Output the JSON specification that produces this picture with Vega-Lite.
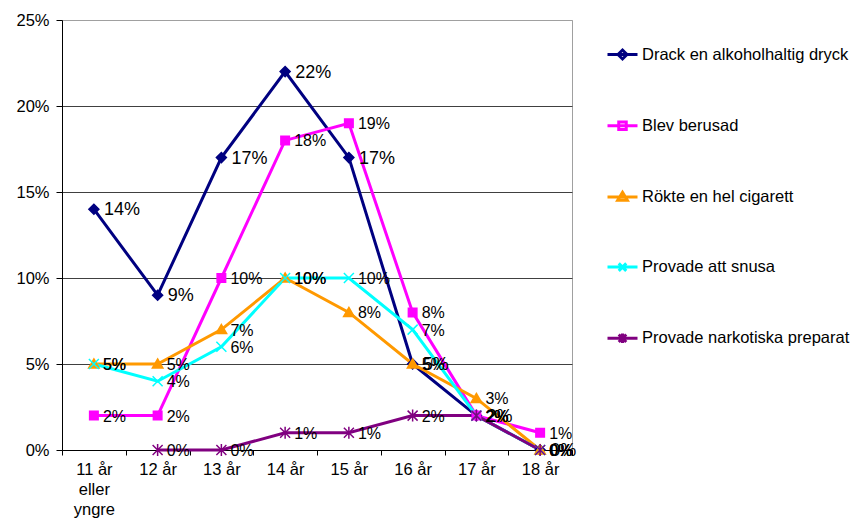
{
  "$schema": "https://vega.github.io/schema/vega-lite/v6.json",
  "width": 510,
  "height": 430,
  "autosize": "none",
  "padding": {"left": 62, "top": 20, "right": 284, "bottom": 76},
  "config": {
    "font": "Liberation Sans",
    "view": {"stroke": "#a0a0a0", "strokeWidth": 1},
    "background": "white"
  },
  "data": {
    "values": [
      {"age": "11 år eller yngre", "series": "Drack en alkoholhaltig dryck", "v": 0.14},
      {"age": "12 år", "series": "Drack en alkoholhaltig dryck", "v": 0.09},
      {"age": "13 år", "series": "Drack en alkoholhaltig dryck", "v": 0.17},
      {"age": "14 år", "series": "Drack en alkoholhaltig dryck", "v": 0.22},
      {"age": "15 år", "series": "Drack en alkoholhaltig dryck", "v": 0.17},
      {"age": "16 år", "series": "Drack en alkoholhaltig dryck", "v": 0.05},
      {"age": "17 år", "series": "Drack en alkoholhaltig dryck", "v": 0.02},
      {"age": "18 år", "series": "Drack en alkoholhaltig dryck", "v": 0.0},
      {"age": "11 år eller yngre", "series": "Blev berusad", "v": 0.02},
      {"age": "12 år", "series": "Blev berusad", "v": 0.02},
      {"age": "13 år", "series": "Blev berusad", "v": 0.10},
      {"age": "14 år", "series": "Blev berusad", "v": 0.18},
      {"age": "15 år", "series": "Blev berusad", "v": 0.19},
      {"age": "16 år", "series": "Blev berusad", "v": 0.08},
      {"age": "17 år", "series": "Blev berusad", "v": 0.02},
      {"age": "18 år", "series": "Blev berusad", "v": 0.01},
      {"age": "11 år eller yngre", "series": "Rökte en hel cigarett", "v": 0.05},
      {"age": "12 år", "series": "Rökte en hel cigarett", "v": 0.05},
      {"age": "13 år", "series": "Rökte en hel cigarett", "v": 0.07},
      {"age": "14 år", "series": "Rökte en hel cigarett", "v": 0.10},
      {"age": "15 år", "series": "Rökte en hel cigarett", "v": 0.08},
      {"age": "16 år", "series": "Rökte en hel cigarett", "v": 0.05},
      {"age": "17 år", "series": "Rökte en hel cigarett", "v": 0.03},
      {"age": "18 år", "series": "Rökte en hel cigarett", "v": 0.0},
      {"age": "11 år eller yngre", "series": "Provade att snusa", "v": 0.05},
      {"age": "12 år", "series": "Provade att snusa", "v": 0.04},
      {"age": "13 år", "series": "Provade att snusa", "v": 0.06},
      {"age": "14 år", "series": "Provade att snusa", "v": 0.10},
      {"age": "15 år", "series": "Provade att snusa", "v": 0.10},
      {"age": "16 år", "series": "Provade att snusa", "v": 0.07},
      {"age": "17 år", "series": "Provade att snusa", "v": 0.02},
      {"age": "18 år", "series": "Provade att snusa", "v": 0.0},
      {"age": "12 år", "series": "Provade narkotiska preparat", "v": 0.0},
      {"age": "13 år", "series": "Provade narkotiska preparat", "v": 0.0},
      {"age": "14 år", "series": "Provade narkotiska preparat", "v": 0.01},
      {"age": "15 år", "series": "Provade narkotiska preparat", "v": 0.01},
      {"age": "16 år", "series": "Provade narkotiska preparat", "v": 0.02},
      {"age": "17 år", "series": "Provade narkotiska preparat", "v": 0.02},
      {"age": "18 år", "series": "Provade narkotiska preparat", "v": 0.0}
    ]
  },
  "encoding": {
    "x": {
      "field": "age", "type": "nominal", "sort": null,
      "scale": {"type": "band", "paddingInner": 0, "paddingOuter": 0,
        "domain": ["11 år eller yngre","12 år","13 år","14 år","15 år","16 år","17 år","18 år"]},
      "axis": {
        "title": null, "labelAngle": 0, "tickBand": "extent",
        "labelFontSize": 16.5, "labelColor": "#000", "labelPadding": 6,
        "labelLineHeight": 20, "labelBaseline": "top",
        "labelExpr": "datum.value == '11 år eller yngre' ? ['11 år','eller','yngre'] : datum.value",
        "domainColor": "#000", "tickColor": "#000", "tickSize": 5, "grid": false,
        "labelFont": "Liberation Sans"
      }
    },
    "y": {
      "field": "v", "type": "quantitative",
      "scale": {"domain": [0, 0.25], "nice": false},
      "axis": {
        "title": null, "values": [0, 0.05, 0.1, 0.15, 0.2, 0.25], "format": ".0%",
        "labelFontSize": 16.5, "labelColor": "#000", "labelPadding": 7,
        "domainColor": "#000", "tickColor": "#000", "tickSize": 6,
        "grid": true,
        "gridColor": {"condition": {"test": "datum.value >= 0.25", "value": "#a0a0a0"}, "value": "#404040"},
        "gridWidth": 1, "gridOpacity": 1,
        "labelFont": "Liberation Sans"
      }
    }
  },
  "layer": [
    {
      "mark": {"type": "line", "strokeWidth": 3},
      "encoding": {
        "color": {
          "field": "series", "type": "nominal",
          "scale": {"domain": ["Drack en alkoholhaltig dryck","Blev berusad","Rökte en hel cigarett","Provade att snusa","Provade narkotiska preparat"],
            "range": ["#000080","#FF00FF","#FF9900","#00FFFF","#800080"]},
          "legend": null
        }
      }
    },
    {
      "mark": {"type": "point", "filled": true, "size": 100, "strokeWidth": 1.5, "opacity": 1},
      "encoding": {
        "fill": {
          "field": "series", "type": "nominal",
          "scale": {"domain": ["Drack en alkoholhaltig dryck","Blev berusad","Rökte en hel cigarett","Provade att snusa","Provade narkotiska preparat"],
            "range": ["#000080","#FF00FF","#FF9900","#00FFFF","#800080"]},
          "legend": null
        },
        "stroke": {
          "field": "series", "type": "nominal",
          "scale": {"domain": ["Drack en alkoholhaltig dryck","Blev berusad","Rökte en hel cigarett","Provade att snusa","Provade narkotiska preparat"],
            "range": ["#000080","#FF00FF","#FF9900","#00FFFF","#800080"]},
          "legend": null
        },
        "shape": {
          "field": "series", "type": "nominal",
          "scale": {"domain": ["Drack en alkoholhaltig dryck","Blev berusad","Rökte en hel cigarett","Provade att snusa","Provade narkotiska preparat"],
            "range": ["M0,-1L1,0L0,1L-1,0Z","M-0.85,-0.85L0.85,-0.85L0.85,0.85L-0.85,0.85Z","M0,-1L1.05,0.8L-1.05,0.8Z","M-1,-1L1,1M-1,1L1,-1","M-1,-1L1,1M-1,1L1,-1M0,-1.2L0,1.2"]},
          "legend": null
        }
      }
    },
    {
      "transform": [{"filter": "datum.series == 'Drack en alkoholhaltig dryck'"}],
      "mark": {"type": "text", "align": "left", "baseline": "middle", "dx": 10, "dy": 1, "fontSize": 18, "color": "#000"},
      "encoding": {"text": {"field": "v", "type": "quantitative", "format": ".0%"}}
    },
    {
      "transform": [{"filter": "datum.series != 'Drack en alkoholhaltig dryck'"}],
      "mark": {"type": "text", "align": "left", "baseline": "middle", "dx": 9, "dy": 1, "fontSize": 16, "color": "#000"},
      "encoding": {"text": {"field": "v", "type": "quantitative", "format": ".0%"}}
    },
    {
      "mark": {"type": "point", "filled": true, "opacity": 0},
      "encoding": {
        "fill": {
          "field": "series", "type": "nominal",
          "scale": {"domain": ["Drack en alkoholhaltig dryck","Blev berusad","Rökte en hel cigarett","Provade att snusa","Provade narkotiska preparat"],
            "range": ["#000080","#FF00FF","#FF9900","#00FFFF","#800080"]},
          "legend": {
            "title": null, "orient": "none", "legendX": 544, "legendY": 18,
            "symbolSize": 900, "symbolStrokeWidth": 3, "symbolOpacity": 1,
            "labelFontSize": 16.5, "labelColor": "#000", "labelOffset": 3,
            "rowPadding": 44.2, "labelFont": "Liberation Sans", "labelLimit": 300
          }
        },
        "stroke": {
          "field": "series", "type": "nominal",
          "scale": {"domain": ["Drack en alkoholhaltig dryck","Blev berusad","Rökte en hel cigarett","Provade att snusa","Provade narkotiska preparat"],
            "range": ["#000080","#FF00FF","#FF9900","#00FFFF","#800080"]}
        },
        "shape": {
          "field": "series", "type": "nominal",
          "scale": {"domain": ["Drack en alkoholhaltig dryck","Blev berusad","Rökte en hel cigarett","Provade att snusa","Provade narkotiska preparat"],
            "range": [
              "M-1,0L1,0M0,-0.3L0.3,0L0,0.3L-0.3,0Z",
              "M-1,0L1,0M-0.25,-0.25L0.25,-0.25L0.25,0.25L-0.25,0.25Z",
              "M-1,0L1,0M0,-0.3L0.32,0.22L-0.32,0.22Z",
              "M-1,0L1,0M-0.25,-0.25L0.25,0.25M-0.25,0.25L0.25,-0.25",
              "M-1,0L1,0M-0.25,-0.25L0.25,0.25M-0.25,0.25L0.25,-0.25M0,-0.32L0,0.32"
            ]}
        }
      }
    }
  ],
  "resolve": {"scale": {"shape": "independent", "fill": "independent", "stroke": "independent"}}
}
